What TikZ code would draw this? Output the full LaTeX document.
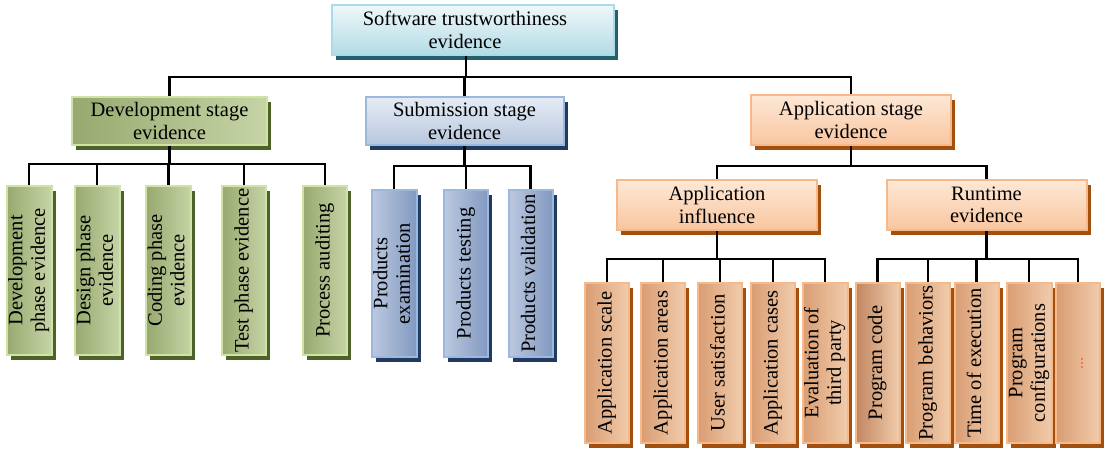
\documentclass[tikz,border=0pt]{standalone}
\usepackage{graphicx}
\usepackage{fontspec}
\setmainfont{Liberation Serif}
\usetikzlibrary{shadows}
\definecolor{rootborder}{HTML}{A9DCE8}
\definecolor{roottop}{HTML}{EEF8FA}
\definecolor{rootbottom}{HTML}{B4DBE5}
\definecolor{rootshadow}{HTML}{24606C}
\definecolor{devborder}{HTML}{D0E2A6}
\definecolor{devdark}{HTML}{97A96F}
\definecolor{devlight}{HTML}{C6D4A6}
\definecolor{devshadow}{HTML}{4C6228}
\definecolor{subborder}{HTML}{9CB8DC}
\definecolor{subtop}{HTML}{E6ECF6}
\definecolor{subbottom}{HTML}{B7C7DE}
\definecolor{subdark}{HTML}{8299C0}
\definecolor{sublight}{HTML}{BCC9E0}
\definecolor{subshadow}{HTML}{203A60}
\definecolor{appborder}{HTML}{F7B88A}
\definecolor{apptop}{HTML}{FDE8D6}
\definecolor{appbottom}{HTML}{F9C6A0}
\definecolor{appdark}{HTML}{D99D73}
\definecolor{applight}{HTML}{F1CCAC}
\definecolor{appshadow}{HTML}{A2500F}
\definecolor{codedark}{HTML}{C08660}
\newcommand{\vtext}[1]{\rotatebox{90}{\begin{tabular}{@{}c@{}}#1\end{tabular}}}
\tikzstyle{box} = [rectangle, draw, line width=2pt, align=center, inner sep=0pt,
    font=\fontsize{20.5}{22.5}\selectfont]
\tikzstyle{header} = [box, minimum width=198pt, minimum height=48pt]
\tikzstyle{leaf} = [box, minimum width=44pt]
\tikzstyle{rootbox} = [draw=rootborder, top color=roottop, bottom color=rootbottom,
    drop shadow={shadow xshift=4pt, shadow yshift=-5pt, fill=rootshadow, opacity=1}]
\tikzstyle{devbox} = [draw=devborder, left color=devdark, right color=devlight,
    drop shadow={shadow xshift=4pt, shadow yshift=-5pt, fill=devshadow, opacity=1}]
\tikzstyle{subbox} = [draw=subborder, top color=subtop, bottom color=subbottom,
    drop shadow={shadow xshift=4pt, shadow yshift=-5pt, fill=subshadow, opacity=1}]
\tikzstyle{subleaf} = [draw=subborder, left color=sublight, right color=subdark,
    drop shadow={shadow xshift=4pt, shadow yshift=-5pt, fill=subshadow, opacity=1}]
\tikzstyle{appbox} = [draw=appborder, top color=apptop, bottom color=appbottom,
    drop shadow={shadow xshift=4pt, shadow yshift=-5pt, fill=appshadow, opacity=1}]
\tikzstyle{appleaf} = [draw=appborder, left color=appdark, right color=applight,
    drop shadow={shadow xshift=4pt, shadow yshift=-5pt, fill=appshadow, opacity=1}]
\tikzstyle{line} = [draw, line width=2.5pt]
\begin{document}
\begin{tikzpicture}[x=1pt, y=-1pt]
        \useasboundingbox (0,0) rectangle (1116,449);
        % Place nodes
        \node [header, rootbox, minimum width=282pt, minimum height=50pt] (root) at (473,30)
            {Software trustworthiness\hspace*{16pt}\\evidence\hspace*{16pt}};
        \node [header, devbox, minimum width=195pt] (dev) at (169.5,121) {Development stage\\evidence};
        \node [header, subbox] (sub) at (464.5,121) {Submission stage\\evidence};
        \node [header, appbox, minimum width=200pt, minimum height=50pt] (app) at (851,120)
            {Application stage\\evidence};
        \node [header, appbox, minimum width=200pt, minimum height=50pt] (influence) at (717,205)
            {Application\\influence};
        \node [header, appbox, minimum width=200pt, minimum height=50pt] (runtime) at (986.5,205)
            {Runtime\\evidence};
        % Development leaves
        \node [leaf, devbox, minimum height=169pt] (devphase) at (29,270.5) {\vtext{Development\\phase evidence}};
        \node [leaf, devbox, minimum height=169pt] (design) at (97,270.5) {\vtext{Design phase\\evidence}};
        \node [leaf, devbox, minimum height=169pt] (coding) at (168.5,270.5) {\vtext{Coding phase\\evidence}};
        \node [leaf, devbox, minimum height=169pt] (testing) at (244,270.5) {\vtext{Test phase evidence}};
        \node [leaf, devbox, minimum height=169pt] (auditing) at (325,270.5) {\vtext{Process auditing}};
        % Submission leaves
        \node [leaf, subleaf, minimum height=167pt] (exam) at (394,273.5) {\vtext{Products\\examination}};
        \node [leaf, subleaf, minimum height=167pt] (ptest) at (466,273.5) {\vtext{Products testing}};
        \node [leaf, subleaf, minimum height=167pt] (valid) at (530.5,273.5) {\vtext{Products validation}};
        % Application leaves
        \node [leaf, appleaf, minimum height=160pt] (scale) at (607,363) {\vtext{Application scale}};
        \node [leaf, appleaf, minimum height=160pt] (areas) at (663,363) {\vtext{Application areas}};
        \node [leaf, appleaf, minimum height=160pt] (satisf) at (720,363) {\vtext{User satisfaction}};
        \node [leaf, appleaf, minimum height=160pt] (cases) at (773,363) {\vtext{Application cases}};
        \node [leaf, appleaf, minimum height=160pt] (third) at (825,363) {\vtext{Evaluation of\\third party}};
        % Runtime leaves
        \node [leaf, appleaf, left color=codedark, minimum height=160pt] (code) at (877.5,363) {\vtext{Program code}};
        \node [leaf, appleaf, minimum height=160pt] (behav) at (928,363) {\vtext{Program behaviors}};
        \node [leaf, appleaf, minimum height=160pt] (exec) at (976.5,363) {\vtext{Time of execution}};
        \node [leaf, appleaf, minimum height=160pt] (config) at (1029,363) {\vtext{Program\\configurations}};
        \node [leaf, appleaf, minimum height=160pt] (more) at (1078,363) {\vtext{\textcolor{red}{\fontsize{12}{14}\selectfont\ldots}}};
        % Draw edges
        \foreach \child in {dev, sub, app}
            \path [line] ([xshift=-7pt]root.south) -- ++(0,21) -| (\child.north);
        \foreach \child in {devphase, design, coding, testing, auditing}
            \path [line] (dev.south) -- ++(0,18) -| (\child.north);
        \foreach \child in {exam, ptest, valid}
            \path [line] (sub.south) -- ++(0,20) -| (\child.north);
        \foreach \child in {influence, runtime}
            \path [line] (app.south) -- ++(0,20) -| (\child.north);
        \foreach \child in {scale, areas, satisf, cases, third}
            \path [line] (influence.south) -- ++(0,28) -| (\child.north);
        \foreach \child in {code, behav, exec, config, more}
            \path [line] (runtime.south) -- ++(0,28) -| (\child.north);
\end{tikzpicture}
\end{document}
